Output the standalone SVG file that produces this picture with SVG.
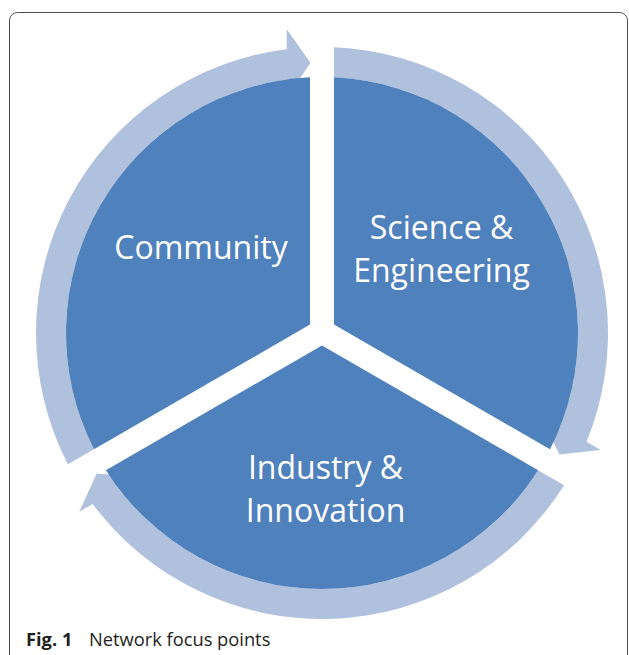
<svg xmlns="http://www.w3.org/2000/svg" width="629" height="655" viewBox="0 0 629 655">
<style>
.slice{fill:#4f81bd}
.ring{fill:#b0c1dd}
.lbl{font-family:"Open Sans","Noto Sans","Liberation Sans",sans-serif;font-size:32px;fill:#ffffff;text-anchor:middle}
.cap{font-family:"Open Sans","Noto Sans","Liberation Sans",sans-serif;font-size:18.3px;fill:#231f20}
</style>
<rect x="9.5" y="12.5" width="618" height="670" rx="8" ry="8" fill="#ffffff" stroke="#4d4d4d" stroke-width="1"/>
<g id="connectors">
<path id="arrow-community" class="ring" d="M67.95,464.35 A286,286 0 0 1 286.7,49.2 L286.7,29.3 L310.5,62.7 L286.7,98.3 L286.7,79.45 A256,256 0 0 0 93.97,449.33 Z"/>
<path id="arrow-science" class="ring" d="M334,47.25 A286,286 0 0 1 586.53,441.73 L600.7,450 L559.3,454.5 L540.7,415 L560.33,426.45 A256,256 0 0 0 334,77.28 Z"/>
<path id="arrow-industry" class="ring" d="M564.13,485.2 A286,286 0 0 1 92.68,503.9 L79.3,511.7 L96.7,473.5 L139.3,476.7 L118.77,488.67 A256,256 0 0 0 538.13,470.19 Z"/>
</g>
<g id="community">
<path class="slice" d="M310,324.6 L93.97,449.33 A256,256 0 0 1 310,77.28 Z"/>
<text class="lbl" x="201" y="259">Community</text>
</g>
<g id="science">
<path class="slice" d="M334,324.6 L334,77.28 A256,256 0 0 1 550.03,449.33 Z"/>
<text class="lbl" x="441.5" y="238.5">Science &amp;</text>
<text class="lbl" x="441.5" y="281.7">Engineering</text>
</g>
<g id="industry">
<path class="slice" d="M322,345.4 L538.13,470.19 A256,256 0 0 1 105.87,470.19 Z"/>
<text class="lbl" x="325.5" y="479">Industry &amp;</text>
<text class="lbl" x="325.5" y="521.7">Innovation</text>
</g>
<text class="cap" x="26" y="646"><tspan font-weight="bold">Fig. 1</tspan><tspan x="89">Network focus points</tspan></text>
</svg>
